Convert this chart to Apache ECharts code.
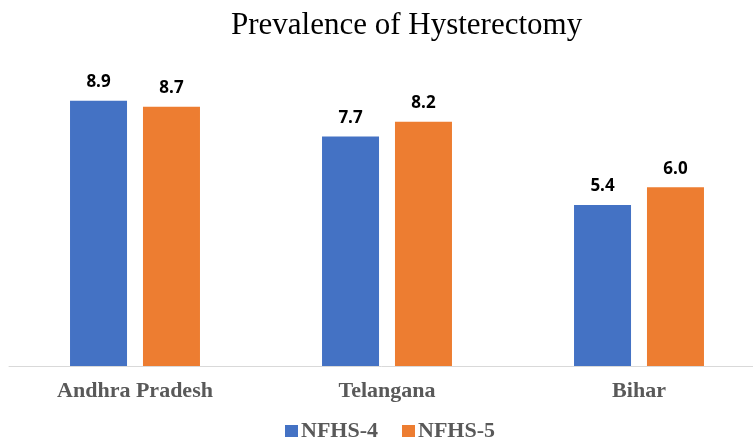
<!DOCTYPE html>
<html><head><meta charset="utf-8">
<script src="https://cdn.jsdelivr.net/npm/echarts@6/dist/echarts.min.js"></script>
<style>html,body{margin:0;padding:0;background:#fff;overflow:hidden}#c{width:753px;height:446px}</style>
</head><body><div id="c"></div>
<script>
var categories = ['Andhra Pradesh', 'Telangana', 'Bihar'];
var nfhs4 = [8.9, 7.7, 5.4];
var nfhs5 = [8.7, 8.2, 6.0];
var seriesNames = ['NFHS-4', 'NFHS-5'];

var chart = echarts.init(document.getElementById('c'));
var lbl = {show: true, position: 'top', distance: 10, formatter: function(p){return p.value.toFixed(1);},
  fontFamily: 'Open Sans', fontWeight: 'bold', fontSize: 17, color: '#000'};
chart.setOption({
  animation: false,
  title: {text: 'Prevalence of Hysterectomy', left: 226, top: 5,
    textStyle: {fontFamily: 'Liberation Serif', fontWeight: 'normal', fontSize: 31, color: '#000'}},
  legend: {left: 285, top: 420, itemWidth: 13, itemHeight: 12, itemGap: 24, icon: 'rect', padding: 0,
    textStyle: {fontFamily: 'Liberation Serif', fontWeight: 'bold', fontSize: 22, color: '#595959', padding: [0,0,0,-2]},
    data: seriesNames},
  grid: {left: 9, top: 68, width: 756, bottom: 80, outerBoundsMode: 'none', containLabel: false},
  xAxis: {type: 'category', data: categories,
    axisLine: {lineStyle: {color: '#d9d9d9', width: 1}}, axisTick: {show: false},
    axisLabel: {margin: 14, fontFamily: 'Liberation Serif', fontWeight: 'bold', fontSize: 22, color: '#595959'}},
  yAxis: {type: 'value', min: 0, max: 10, show: false, splitLine: {show: false}},
  series: [
    {name: seriesNames[0], type: 'bar', data: nfhs4, barWidth: 57, barGap: '28%', itemStyle: {color: '#4472C4'}, label: lbl},
    {name: seriesNames[1], type: 'bar', data: nfhs5, barWidth: 57, itemStyle: {color: '#ED7D31'}, label: lbl}
  ]
});
</script></body></html>
